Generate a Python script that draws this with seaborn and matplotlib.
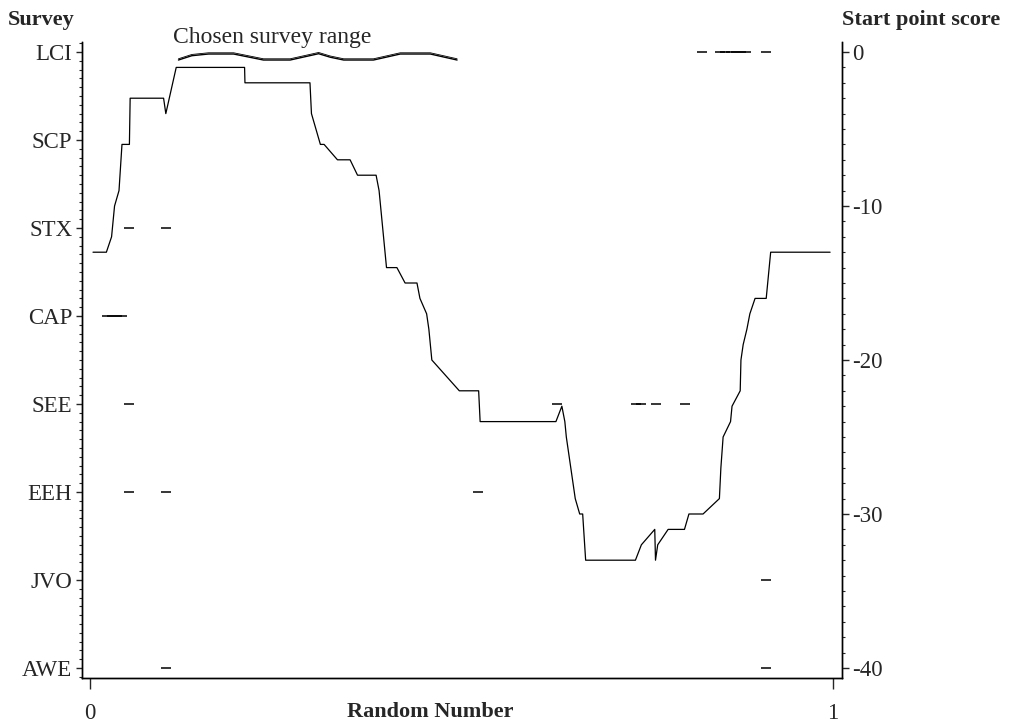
import numpy as np
import pandas as pd
import matplotlib
matplotlib.use("Agg")
import matplotlib.pyplot as plt
import seaborn as sns
from matplotlib.ticker import MultipleLocator

# survey categories, bottom to top
surveys = ["AWE", "JVO", "EEH", "SEE", "CAP", "STX", "SCP", "LCI"]

# start point score traced against the random number
rand_num = [0.004, 0.022, 0.029, 0.033, 0.039, 0.043, 0.053, 0.054, 0.099, 0.102,
            0.116, 0.208, 0.2085, 0.296, 0.298, 0.310, 0.315, 0.333, 0.350, 0.360,
            0.385, 0.389, 0.395, 0.399, 0.413, 0.424, 0.440, 0.444, 0.453, 0.456,
            0.460, 0.497, 0.523, 0.525, 0.627, 0.635, 0.639, 0.641, 0.650, 0.653,
            0.659, 0.663, 0.667, 0.734, 0.742, 0.760, 0.761, 0.764, 0.778, 0.800,
            0.806, 0.825, 0.847, 0.849, 0.852, 0.862, 0.864, 0.875, 0.876, 0.879,
            0.884, 0.888, 0.895, 0.910, 0.916, 0.996]
start_score = [-13, -13, -12, -10, -9, -6, -6, -3, -3, -4,
               -1, -1, -2, -2, -4, -6, -6, -7, -7, -8,
               -8, -9, -12, -14, -14, -15, -15, -16, -17, -18,
               -20, -22, -22, -24, -24, -23, -24, -25, -28, -29,
               -30, -30, -33, -33, -32, -31, -33, -32, -31, -31,
               -30, -30, -29, -27, -25, -24, -23, -22, -20, -19,
               -18, -17, -16, -16, -13, -13]

# survey picks (dash marks)
pick_survey = ["LCI"] * 8 + ["STX"] * 2 + ["CAP"] * 4 + ["SEE"] * 6 + ["EEH"] * 3 + ["JVO"] + ["AWE"] * 2
pick_x = [0.824, 0.848, 0.855, 0.862, 0.869, 0.876, 0.883, 0.910,
          0.052, 0.102,
          0.023, 0.030, 0.036, 0.043,
          0.052, 0.629, 0.735, 0.741, 0.762, 0.801,
          0.052, 0.102, 0.522,
          0.910,
          0.102, 0.910]

# chosen survey range (brace)
range_lo, range_hi = 0.119, 0.494
brace_t = [0, 0.048, 0.108, 0.198, 0.305, 0.401, 0.503, 0.545, 0.593, 0.700, 0.796, 0.904, 1.0]
brace_h = [0, 0.28, 0.39, 0.39, 0, 0, 0.41, 0.18, 0, 0, 0.39, 0.39, 0]

sns.set_style("ticks")
plt.rcParams['font.family'] = ['Liberation Serif', 'DejaVu Serif']

fig = plt.figure(figsize=(10.17, 7.24), dpi=100)
ax = fig.add_axes([82 / 1017, 1 - 678 / 724, 760 / 1017, 636 / 724])
ax2 = ax.twinx()

picks = pd.DataFrame({"x": pick_x, "survey": pick_survey})
picks["pos"] = picks["survey"].map({s: i for i, s in enumerate(surveys)})
sns.scatterplot(data=picks, x="x", y="pos", marker="_", s=60, color="black",
                linewidth=1.1, ax=ax, legend=False)

line = pd.DataFrame({"x": rand_num, "score": start_score})
sns.lineplot(data=line, x="x", y="score", sort=False, estimator=None,
             color="black", linewidth=0.9, ax=ax2)

# brace above chosen range
bx = range_lo + np.array(brace_t) * (range_hi - range_lo)
by = -0.52 + np.array(brace_h)
ax2.plot(bx, by, color="black", lw=1.0)
ax2.plot(bx, by + 0.08, color="black", lw=0.6)
ax2.text(0.112, 0.92, "Chosen survey range", fontsize=17, ha="left", va="center")

ax.set_xlim(-0.0108, 1.012)
ax.set_ylim(-0.114, 7.114)
ax2.set_ylim(-40.65, 0.65)

ax.set_yticks(range(len(surveys)))
ax.set_yticklabels(surveys, fontsize=16.5)
ax.yaxis.set_minor_locator(MultipleLocator(0.1))
ax.set_xticks([0, 1])
ax.set_xticklabels(["0", "1"], fontsize=16.5)
ax.tick_params(axis="x", length=8, width=1, pad=10)
ax.tick_params(axis="y", which="major", length=4, width=1, pad=3)
ax.tick_params(axis="y", which="minor", length=2.5, width=0.8)

ax2.set_yticks([0, -10, -20, -30, -40])
ax2.set_yticklabels(["0", "-10", "-20", "-30", "-40"], fontsize=16.5)
ax2.yaxis.set_minor_locator(MultipleLocator(1))
ax2.tick_params(axis="y", which="major", length=5, width=1, pad=2)
ax2.tick_params(axis="y", which="minor", length=2.5, width=0.8)

ax.set_xlabel("")
ax.set_ylabel("")
ax2.set_ylabel("")
for a in (ax, ax2):
    a.spines["top"].set_visible(False)
    for s in ("left", "right", "bottom"):
        a.spines[s].set_linewidth(1)
        a.spines[s].set_color("black")

fig.text(8 / 1017, 1 - 20 / 724, "Survey", fontsize=16, fontweight="bold", ha="left", va="center")
fig.text(842 / 1017, 1 - 20 / 724, "Start point score", fontsize=16, fontweight="bold", ha="left", va="center")
fig.text(430 / 1017, 1 - 712 / 724, "Random Number", fontsize=16, fontweight="bold", ha="center", va="center")

fig.savefig("out.png", dpi=100)
